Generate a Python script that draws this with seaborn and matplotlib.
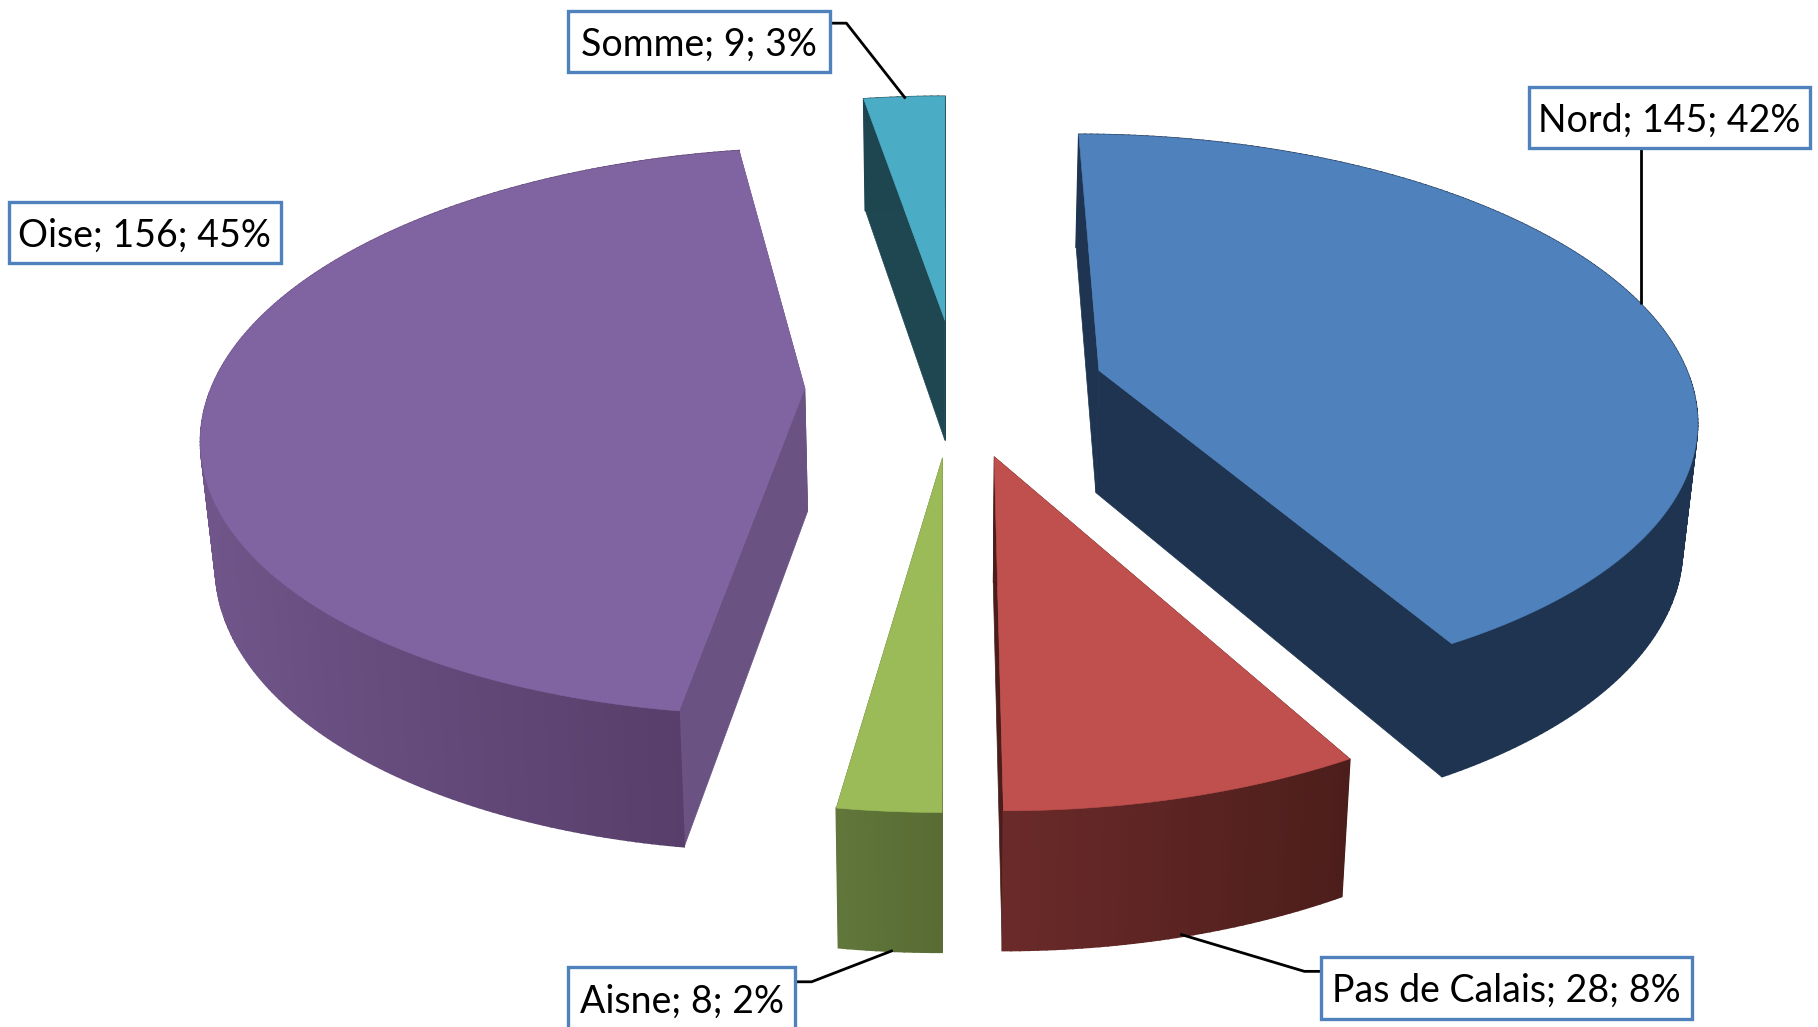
import numpy as np
import matplotlib
matplotlib.use("Agg")
import matplotlib.pyplot as plt
from matplotlib.colors import to_rgb
import seaborn as sns

# --- data ---
categories = ["Nord", "Pas de Calais", "Aisne", "Oise", "Somme"]
values = [145, 28, 8, 156, 9]

# --- style ---
top_colors = ["#4F81BD", "#C0504D", "#9BBB59", "#8064A2", "#4BACC6"]
wall_start = ["#1E3450", "#4C1E1B", "#586C33", "#553B66", "#1D4651"]
wall_end = ["#1E3450", "#6B2A2A", "#60763A", "#6F5589", "#1D4651"]
radial_colors = ["#1E3450", "#4A1D1B", "#5A6E33", "#6A5283", "#1F4752"]
explode_x = [0.262, 0.080, -0.004, -0.236, 0.0]
explode_y = [-0.065, 0.238, 0.242, 0.0, -0.255]
label_xy = [(1440, 101.5), (1299, 852.5), (588, 862), (125, 200.5), (603, 36)]
box_size = [(243, 53), (320, 53), (196, 56), (234, 53), (226, 53)]
leaders = [[(1415, 128), (1415, 262)],
           [(1139, 838), (1125, 838), (1018, 806)],
           [(686, 847), (700, 847), (770, 820)],
           None,
           [(716, 20), (730, 20), (781, 85)]]
CX, CY = 815, 335
SCALE, SCALE_V, PERSP = 512, 239, 0.152
H0, H1, SHRINK = 106, 0.04, 0.98

sns.set_theme(style="white")
plt.rcParams["font.family"] = ["Lato", "DejaVu Sans"]
palette = sns.color_palette(top_colors)


def project(X, Y, bottom=False):
    d = 1 - PERSP * Y
    u, v = SCALE * X / d, SCALE_V * Y / d
    if bottom:
        u, v = u * SHRINK, v + H0 + H1 * v
    return CX + u, CY + v


def mix(a, b, t):
    a, b = np.array(to_rgb(a)), np.array(to_rgb(b))
    return tuple(a + (b - a) * t)


fig = plt.figure(figsize=(18.18, 10.27), dpi=100)
ax = fig.add_axes([0, 0, 1, 1])
ax.set_xlim(0, 1568)
ax.set_ylim(886, 0)
ax.axis("off")

total = sum(values)
edges = np.concatenate([[0], np.cumsum(values)]) / total * 2 * np.pi

for i, name in enumerate(categories):
    a = np.linspace(edges[i], edges[i + 1], max(8, int(values[i] * 1.5)))
    ex, ey = explode_x[i], explode_y[i]
    rx, ry = ex + np.sin(a), ey - np.cos(a)

    # radial walls
    for X, Y in ((rx[0], ry[0]), (rx[-1], ry[-1])):
        t0, t1 = project(np.array([ex, X]), np.array([ey, Y]))
        b0, b1 = project(np.array([ex, X]), np.array([ey, Y]), bottom=True)
        ax.fill(np.r_[t0, b0[::-1]], np.r_[t1, b1[::-1]],
                color=radial_colors[i], lw=0.5, zorder=2 + i * 0.01)

    # outer wall: shaded bands
    tx, ty = project(rx, ry)
    bx, by = project(rx, ry, bottom=True)
    span = max(tx.max() - tx.min(), 1)
    for j in range(len(a) - 1):
        t = (tx[j] + tx[j + 1]) / 2
        c = mix(wall_end[i], wall_start[i], (t - tx.min()) / span)
        ax.fill([tx[j], tx[j + 1], bx[j + 1], bx[j]],
                [ty[j], ty[j + 1], by[j + 1], by[j]],
                color=c, lw=1.2, zorder=3)

    # top
    ax0, ay0 = project(np.array([ex]), np.array([ey]))
    ax.fill(np.r_[ax0, tx], np.r_[ay0, ty], color=palette[i], lw=0.4, zorder=4)

    # leader
    if leaders[i]:
        lx, ly = zip(*leaders[i])
        ax.plot(lx, ly, color="black", lw=2.0, zorder=5, solid_capstyle="butt")

    # label box
    pct = round(values[i] / total * 100)
    x, y = label_xy[i]
    w, h = box_size[i]
    ax.add_patch(plt.Rectangle((x - w / 2, y - h / 2), w, h, fc="white",
                               ec="#4F81BD", lw=2.4, zorder=6, clip_on=False))
    ax.text(x, y + 2.5, f"{name}; {values[i]}; {pct}%", ha="center", va="center",
            fontsize=27, color="black", zorder=7)

sns.despine(ax=ax, left=True, bottom=True)
fig.savefig("out.png", dpi=100, facecolor="white")
